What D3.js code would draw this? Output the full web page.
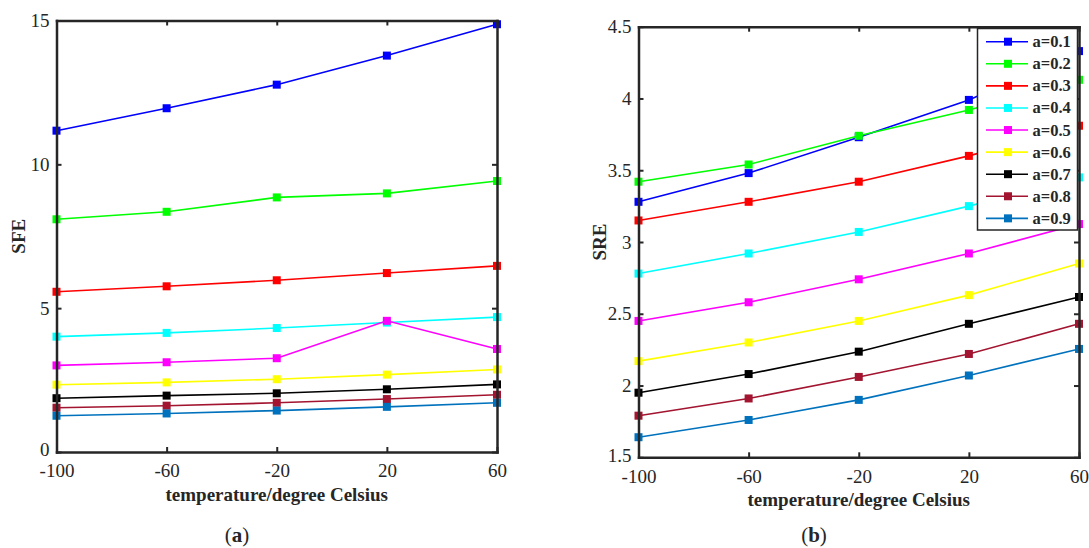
<!DOCTYPE html>
<html>
<head>
<meta charset="utf-8">
<script src="https://cdn.jsdelivr.net/npm/d3@7"></script>
<style>
body { margin: 0; background: #fff; }
text { font-family: "Liberation Serif", "Times New Roman", serif; fill: #262626; }
</style>
</head>
<body>
<script>
// temperature positions on the x axis
var temps = [-100, -60, -20, 20, 60];
var seriesNames = ["a=0.1", "a=0.2", "a=0.3", "a=0.4", "a=0.5", "a=0.6", "a=0.7", "a=0.8", "a=0.9"];
var colors = ["#0000ff", "#00ff00", "#ff0000", "#00ffff", "#ff00ff", "#ffff00", "#000000", "#a2142f", "#0072bd"];

// panel (a): SFE
var sfe1 = [11.17, 11.95, 12.77, 13.78, 14.87];
var sfe2 = [8.09, 8.35, 8.85, 8.99, 9.42];
var sfe3 = [5.57, 5.76, 5.97, 6.22, 6.47];
var sfe4 = [4.01, 4.14, 4.31, 4.50, 4.69];
var sfe5 = [3.01, 3.12, 3.26, 4.56, 3.58];
var sfe6 = [2.34, 2.42, 2.53, 2.69, 2.87];
var sfe7 = [1.87, 1.96, 2.04, 2.18, 2.35];
var sfe8 = [1.54, 1.61, 1.71, 1.84, 1.99];
var sfe9 = [1.26, 1.34, 1.44, 1.57, 1.71];

// panel (b): SRE
var sre1 = [3.28, 3.48, 3.73, 3.99, 4.33];
var sre2 = [3.42, 3.54, 3.74, 3.92, 4.13];
var sre3 = [3.15, 3.28, 3.42, 3.60, 3.81];
var sre4 = [2.78, 2.92, 3.07, 3.25, 3.45];
var sre5 = [2.45, 2.58, 2.74, 2.92, 3.125];
var sre6 = [2.17, 2.30, 2.45, 2.63, 2.85];
var sre7 = [1.95, 2.08, 2.236, 2.43, 2.617];
var sre8 = [1.79, 1.91, 2.06, 2.22, 2.43];
var sre9 = [1.64, 1.76, 1.90, 2.07, 2.255];

var sfeTicks = [0, 5, 10, 15];
var sreTicks = [1.5, 2, 2.5, 3, 3.5, 4, 4.5];

var sfeSeries = [sfe1, sfe2, sfe3, sfe4, sfe5, sfe6, sfe7, sfe8, sfe9];
var sreSeries = [sre1, sre2, sre3, sre4, sre5, sre6, sre7, sre8, sre9];

var svg = d3.select("body").append("svg")
	.attr("width", 1089)
	.attr("height", 548);

function panel(opt) {
	var x = d3.scaleLinear().domain([-100, 60]).range([opt.left, opt.right]);
	var y = d3.scaleLinear().domain(opt.domain).range([opt.bottom, opt.top]);
	var g = svg.append("g");

	var line = d3.line()
		.x(function(d, i) { return x(temps[i]); })
		.y(function(d) { return y(d); });

	opt.series.forEach(function(vals, k) {
		g.append("path")
			.attr("d", line(vals))
			.attr("fill", "none")
			.attr("stroke", colors[k])
			.attr("stroke-width", 1.6);
		g.selectAll(null)
			.data(vals)
			.enter().append("rect")
			.attr("x", function(d, i) { return x(temps[i]) - 4; })
			.attr("y", function(d) { return y(d) - 4; })
			.attr("width", 8)
			.attr("height", 8)
			.attr("fill", colors[k]);
	});

	var axisColor = "#262626";
	function style(a) {
		a.select(".domain").attr("stroke", axisColor).attr("stroke-width", 2.5);
		a.selectAll(".tick line").attr("stroke", axisColor).attr("stroke-width", 2);
		a.selectAll(".tick text").attr("font-size", 19).attr("fill", axisColor)
			.attr("font-family", "'Liberation Serif', serif");
	}

	g.append("g")
		.attr("transform", "translate(0," + opt.bottom + ")")
		.call(d3.axisBottom(x).tickValues(temps).tickSizeInner(-5).tickSizeOuter(0).tickPadding(opt.xpad).tickFormat(function(d) { return String(d); }))
		.call(style);
	g.append("g")
		.attr("transform", "translate(0," + opt.top + ")")
		.call(d3.axisTop(x).tickValues(temps).tickSizeInner(-5).tickSizeOuter(0).tickFormat(""))
		.call(style);
	var yAx = g.append("g")
		.attr("transform", "translate(" + opt.left + ",0)")
		.call(d3.axisLeft(y).tickValues(opt.ticks).tickSizeInner(-5).tickSizeOuter(0).tickPadding(7).tickFormat(function(d) { return String(d); }))
		.call(style);
	// lowest label sits a touch higher so it clears the x labels
	yAx.select(".tick text").attr("dy", "0.2em");
	g.append("g")
		.attr("transform", "translate(" + opt.right + ",0)")
		.call(d3.axisRight(y).tickValues(opt.ticks).tickSizeInner(-5).tickSizeOuter(0).tickFormat(""))
		.call(style);
	g.selectAll(".domain").attr("stroke-linecap", "square");

	g.append("text")
		.attr("x", (opt.left + opt.right) / 2)
		.attr("y", opt.xlabelY)
		.attr("text-anchor", "middle")
		.attr("font-size", 19)
		.attr("font-weight", "bold")
		.text("temperature/degree Celsius");

	g.append("text")
		.attr("transform", "translate(" + opt.ylabelX + "," + (opt.top + opt.bottom) / 2 + ") rotate(-90)")
		.attr("text-anchor", "middle")
		.attr("font-size", 19)
		.attr("font-weight", "bold")
		.text(opt.ylabel);

	var cap = g.append("text")
		.attr("x", opt.capX)
		.attr("y", 542)
		.attr("text-anchor", "middle")
		.attr("font-size", 21)
		.attr("fill", "#000");
	cap.append("tspan").text("(");
	cap.append("tspan").attr("font-weight", "bold").text(opt.cap);
	cap.append("tspan").text(")");

	return {x: x, y: y, g: g};
}

panel({left: 56.5, right: 497, top: 20.5, bottom: 452, domain: [0, 15], ticks: sfeTicks,
	series: sfeSeries, ylabel: "SFE", ylabelX: 25, xlabelY: 501, xpad: 12, cap: "a", capX: 237});

var pb = panel({left: 638.5, right: 1079, top: 26.7, bottom: 457.3, domain: [1.5, 4.5], ticks: sreTicks,
	series: sreSeries, ylabel: "SRE", ylabelX: 605.5, xlabelY: 505.5, xpad: 12, cap: "b", capX: 814});

// legend in panel (b)
var leg = pb.g.append("g");
leg.append("rect")
	.attr("x", 977.5).attr("y", 28.5)
	.attr("width", 100).attr("height", 201.5)
	.attr("fill", "#fff")
	.attr("stroke", "#262626")
	.attr("stroke-width", 1.5);
var rows = leg.selectAll(".row")
	.data(seriesNames)
	.enter().append("g")
	.attr("class", "row")
	.attr("transform", function(d, i) { return "translate(0," + (41.7 + i * 22.08) + ")"; });
rows.append("line")
	.attr("x1", 986).attr("x2", 1028)
	.attr("stroke", function(d, i) { return colors[i]; })
	.attr("stroke-width", 1.6);
rows.append("rect")
	.attr("x", 1004).attr("y", -4)
	.attr("width", 8).attr("height", 8)
	.attr("fill", function(d, i) { return colors[i]; });
rows.append("text")
	.attr("x", 1032.5).attr("y", 5.5)
	.attr("font-size", 16.5)
	.attr("font-weight", "bold")
	.attr("fill", "#000")
	.text(function(d) { return d; });
</script>
</body>
</html>
